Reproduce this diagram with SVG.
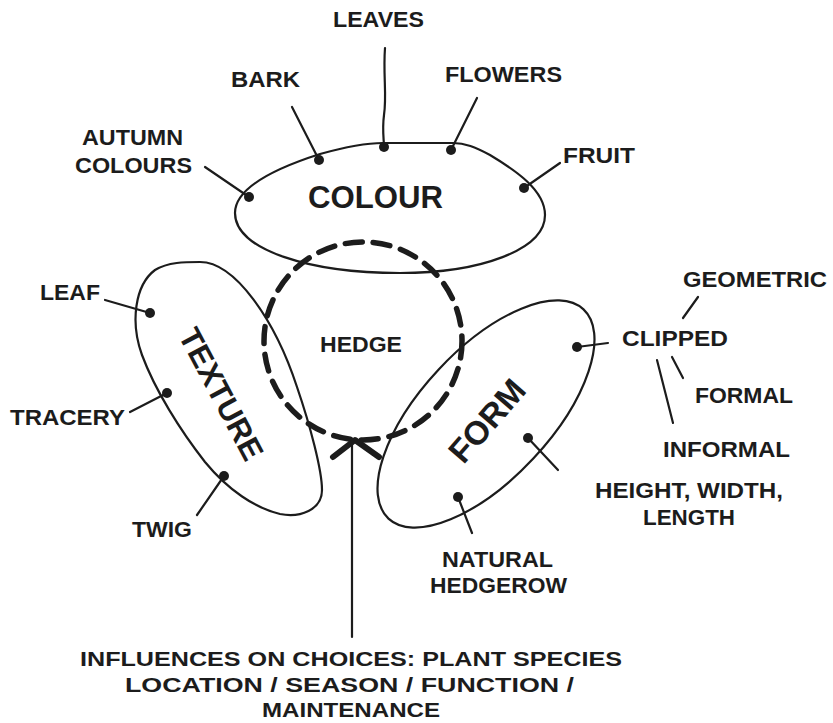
<svg xmlns="http://www.w3.org/2000/svg" width="833" height="723" viewBox="0 0 833 723">
<style>
.t{font-family:"Liberation Sans",Arial,sans-serif;font-weight:700;fill:#1c1c1c;font-size:22px}
.big{font-size:31px}
.low{font-size:21px}
.outline{fill:none;stroke:#1c1c1c;stroke-width:2.2;stroke-linejoin:round}
.ln{fill:none;stroke:#1c1c1c;stroke-width:2.2;stroke-linecap:round}
.thick{fill:none;stroke:#1c1c1c;stroke-width:6;stroke-linecap:round;stroke-linejoin:round}
.dot{fill:#1c1c1c}
.dash{fill:none;stroke:#1c1c1c;stroke-width:5.5;stroke-dasharray:17 11;stroke-linecap:round}
</style>
<rect width="833" height="723" fill="#ffffff"/>

<g id="colour">
<path class="outline" d="M235,213 C235,190 270,170 320,154 C345,147 365,143 383,143 L453,143 C465,143 475,147 490,155 C515,170 545,190 545,215 C545,250 480,273 400,273 C310,273 235,250 235,213 Z"/>
<text class="t big" x="308" y="208" textLength="135" lengthAdjust="spacingAndGlyphs">COLOUR</text>
</g>

<g id="texture">
<path class="outline" d="M200,262 C235,262 275,320 297,387 C310,425 322,470 322,490 C322,510 300,518 280,514 C255,508 228,490 205,462 C180,430 155,390 142,355 C130,322 135,285 155,270 C168,262 185,262 200,262 Z"/>
<text class="t" style="font-size:31px" text-anchor="middle" transform="translate(221.5,394) rotate(62)" y="11" textLength="145" lengthAdjust="spacingAndGlyphs">TEXTURE</text>
</g>

<g id="form">
<ellipse class="outline" cx="486" cy="414" rx="143" ry="65" transform="rotate(-47 486 414)"/>
<text class="t" style="font-size:33px" text-anchor="middle" transform="translate(486.5,420.5) rotate(-49)" y="12" textLength="98" lengthAdjust="spacingAndGlyphs">FORM</text>
</g>

<g id="hedge">
<circle class="dash" cx="363" cy="341" r="99"/>
<text class="t" x="320" y="352" textLength="82" lengthAdjust="spacingAndGlyphs">HEDGE</text>
</g>

<g id="leaves"><text class="t" x="333" y="27" textLength="91" lengthAdjust="spacingAndGlyphs">LEAVES</text></g>
<g id="bark"><text class="t" x="231" y="87" textLength="69" lengthAdjust="spacingAndGlyphs">BARK</text></g>
<g id="flowers"><text class="t" x="445" y="82" textLength="117" lengthAdjust="spacingAndGlyphs">FLOWERS</text></g>
<g id="fruit"><text class="t" x="563" y="163" textLength="72" lengthAdjust="spacingAndGlyphs">FRUIT</text></g>
<g id="autumn-colours">
<text class="t" x="82" y="145" textLength="101" lengthAdjust="spacingAndGlyphs">AUTUMN</text>
<text class="t" x="75" y="173" textLength="117" lengthAdjust="spacingAndGlyphs">COLOURS</text>
</g>
<g id="leaf"><text class="t" x="40" y="300" textLength="60" lengthAdjust="spacingAndGlyphs">LEAF</text></g>
<g id="tracery"><text class="t" x="10" y="425" textLength="115" lengthAdjust="spacingAndGlyphs">TRACERY</text></g>
<g id="twig"><text class="t" x="132" y="537" textLength="60" lengthAdjust="spacingAndGlyphs">TWIG</text></g>
<g id="geometric"><text class="t" x="683" y="287" textLength="144" lengthAdjust="spacingAndGlyphs">GEOMETRIC</text></g>
<g id="clipped"><text class="t" x="622" y="346" textLength="106" lengthAdjust="spacingAndGlyphs">CLIPPED</text></g>
<g id="formal"><text class="t" x="695" y="403" textLength="98" lengthAdjust="spacingAndGlyphs">FORMAL</text></g>
<g id="informal"><text class="t" x="663" y="457" textLength="127" lengthAdjust="spacingAndGlyphs">INFORMAL</text></g>
<g id="dimensions">
<text class="t" x="595" y="498" textLength="188" lengthAdjust="spacingAndGlyphs">HEIGHT, WIDTH,</text>
<text class="t" x="643" y="525" textLength="92" lengthAdjust="spacingAndGlyphs">LENGTH</text>
</g>
<g id="natural-hedgerow">
<text class="t" x="442" y="567" textLength="111" lengthAdjust="spacingAndGlyphs">NATURAL</text>
<text class="t" x="430" y="593" textLength="137" lengthAdjust="spacingAndGlyphs">HEDGEROW</text>
</g>
<g id="influences">
<text class="t low" x="80" y="666" textLength="542" lengthAdjust="spacingAndGlyphs">INFLUENCES ON CHOICES: PLANT SPECIES</text>
<text class="t low" x="125" y="692" textLength="449" lengthAdjust="spacingAndGlyphs">LOCATION / SEASON / FUNCTION /</text>
<text class="t low" x="262" y="717" textLength="178" lengthAdjust="spacingAndGlyphs">MAINTENANCE</text>
</g>

<g id="connectors">
<path class="ln" d="M385,48 C383,75 387,95 384,115 C382,130 384,140 384,147"/>
<line class="ln" x1="292" y1="107" x2="319" y2="160"/>
<line class="ln" x1="477" y1="98" x2="451" y2="150"/>
<line class="ln" x1="560" y1="163" x2="524" y2="188"/>
<line class="ln" x1="205" y1="167" x2="249" y2="197"/>
<line class="ln" x1="105" y1="300" x2="150" y2="313"/>
<line class="ln" x1="130" y1="412" x2="167" y2="393"/>
<line class="ln" x1="197" y1="515" x2="224" y2="476"/>
<line class="ln" x1="577" y1="347" x2="608" y2="343"/>
<line class="ln" x1="528" y1="438" x2="558" y2="470"/>
<line class="ln" x1="458" y1="497" x2="472" y2="533"/>
<line class="ln" x1="698" y1="297" x2="683" y2="318"/>
<line class="ln" x1="672" y1="357" x2="683" y2="378"/>
<line class="ln" x1="657" y1="360" x2="673" y2="423"/>
<line class="ln" x1="352" y1="444" x2="352" y2="637"/>
<polyline class="thick" points="333,457 355,440 379,457"/>
<circle class="dot" cx="384" cy="147" r="5"/>
<circle class="dot" cx="319" cy="160" r="5"/>
<circle class="dot" cx="451" cy="150" r="5"/>
<circle class="dot" cx="524" cy="188" r="5"/>
<circle class="dot" cx="249" cy="197" r="5"/>
<circle class="dot" cx="150" cy="313" r="5"/>
<circle class="dot" cx="167" cy="393" r="5"/>
<circle class="dot" cx="224" cy="476" r="5"/>
<circle class="dot" cx="577" cy="347" r="5"/>
<circle class="dot" cx="528" cy="438" r="5"/>
<circle class="dot" cx="458" cy="497" r="5"/>
</g>
</svg>
